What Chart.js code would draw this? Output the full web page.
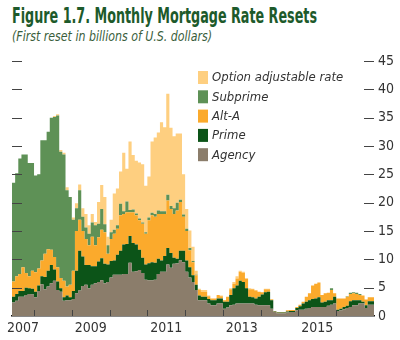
<!DOCTYPE html>
<html>
<head>
<meta charset="utf-8">
<script src="https://cdn.jsdelivr.net/npm/chart.js@4.4.1/dist/chart.umd.min.js"></script>
<style>
  html, body { margin: 0; padding: 0; background: #fff; }
  #wrap { position: relative; width: 400px; height: 340px; overflow: hidden; }
  #chart { position: absolute; left: 0; top: 0; }
  .narrow { font-family: "Liberation Sans Narrow", "DejaVu Sans Condensed", "Arial Narrow", sans-serif; }
  #title { position: absolute; left: 12px; top: 4px; font-size: 21px; font-weight: bold; color: #1d5a2b; white-space: nowrap; line-height: 24px; transform-origin: left top; }
  #subtitle { position: absolute; left: 12px; top: 28px; font-size: 14px; font-style: italic; color: #3a5e3c; white-space: nowrap; line-height: 16px; transform-origin: left top; }
</style>
</head>
<body>
<div id="wrap">
  <div id="title" class="narrow">Figure 1.7. Monthly Mortgage Rate Resets</div>
  <div id="subtitle" class="narrow">(First reset in billions of U.S. dollars)</div>
  <canvas id="chart" width="400" height="340"></canvas>
</div>
<script>
// first month shown is June 2007, one value per month through December 2016
const startYear = 2007;
const startMonth = 5; // zero-based: June
const endYear = 2017;

const yearLabels = [2007, 2009, 2011, 2013, 2015];
const yearMarks = [2008, 2009, 2010, 2011, 2012, 2013, 2014, 2015, 2016];

const agency = [
  1.7, 2.4, 2.7, 3.4, 3.4, 3.7, 3.9, 3.8, 3.3, 4.4, 5.6, 4.7, 5.2, 5.8, 6.2, 4.6, 4.3, 2.7, 2.8,
  2.8, 3.0, 4.0, 4.5, 5.3, 5.5, 4.9, 5.5,
  5.8, 6.0, 6.3, 5.8, 6.0, 6.8, 7.3, 7.3, 7.3, 7.4, 7.4, 9.4, 7.8, 7.9, 8.1, 7.6, 6.4, 6.3, 6.3, 6.4,
  7.4, 7.8, 7.8, 9.1, 8.5, 9.2, 9.3, 9.8,
  9.5, 7.8, 6.8, 6.0, 4.6, 2.8, 2.8, 2.8, 2.2, 1.9, 1.9, 2.2,
  2.2, 1.3, 1.5, 1.9, 2.0, 2.2, 2.2, 2.2, 2.2, 2.2, 2.2, 2.0,
  1.9, 1.9, 1.9, 1.9, 1.3, 0.7, 0.5, 0.5, 0.5, 0.6, 0.7, 0.7,
  1.0, 1.1, 1.1, 1.3, 1.4, 1.6, 1.6, 1.6, 1.6, 1.6, 1.8, 2.0,
  2.2, 0.9, 1.0, 1.2, 1.4, 1.6, 1.9, 1.9, 2.2, 2.2, 1.4, 2.0
];
const prime = [
  0.8, 1.0, 1.2, 1.0, 1.0, 1.3, 1.0, 1.0, 1.0, 1.0, 1.4, 2.2, 2.8, 3.2, 2.0, 1.5, 0.6, 0.6, 0.8,
  0.5, 1.4, 4.0, 7.0, 5.2, 3.5, 4.1, 3.3,
  3.0, 3.6, 3.9, 3.4, 3.1, 2.9, 2.5, 3.5, 4.2, 5.2, 5.3, 4.7, 5.1, 4.7, 3.6, 2.7, 2.7, 3.0, 3.2, 3.0,
  2.7, 2.0, 2.8, 2.9, 2.6, 1.1, 0.8, 1.7,
  2.0, 2.0, 1.8, 1.2, 0.9, 0.8, 0.6, 0.6, 0.8, 0.9, 0.9, 0.9,
  0.9, 1.2, 1.0, 1.8, 2.9, 3.2, 4.0, 3.8, 2.7, 1.2, 1.1, 1.1,
  1.5, 1.9, 2.3, 2.4, 1.5, 0.1, 0.1, 0.1, 0.1, 0.2, 0.2, 0.2,
  0.4, 0.6, 1.1, 1.2, 1.4, 1.4, 1.5, 1.7, 0.8, 0.9, 1.0, 0.8,
  1.2, 0.2, 0.3, 0.4, 0.4, 1.0, 0.9, 0.9, 0.6, 0.3, 0.5, 0.6
];
const altA = [
  2.5, 2.7, 3.1, 3.0, 4.2, 2.6, 2.1, 3.2, 3.4, 3.0, 2.8, 4.1, 3.8, 2.7, 2.2, 2.5, 1.8, 2.9, 1.6,
  2.2, 3.6, 7.0, 5.5, 4.5, 4.6, 3.5, 5.2,
  3.7, 4.3, 5.0, 5.6, 1.9, 3.9, 4.7, 4.6, 6.3, 5.4, 5.6, 4.2, 5.4, 5.2, 5.2, 6.0, 5.4, 7.6, 8.3, 8.1,
  7.9, 8.2, 7.4, 8.4, 7.8, 7.7, 8.5, 8.6,
  6.0, 5.2, 3.0, 2.3, 1.7, 1.0, 0.9, 0.9, 0.5, 0.3, 0.3, 0.6,
  0.4, 0.3, 0.9, 1.0, 0.8, 1.2, 1.6, 1.6, 1.7, 1.3, 1.4, 1.4,
  0.9, 0.4, 0.5, 0.4, 0.1, 0.1, 0.1, 0.1, 0.1, 0.2, 0.15, 0.15,
  0.2, 0.3, 0.3, 0.9, 1.2, 2.4, 2.6, 2.6, 1.3, 1.5, 1.3, 1.8,
  0.6, 2.0, 1.8, 1.5, 1.6, 1.3, 1.2, 1.1, 0.9, 1.1, 1.0, 0.7
];
const subprime = [
  16.0, 17.4, 18.2, 20.4, 19.9, 20.9, 20.0, 19.0, 17.1, 16.6, 21.2, 20.0, 20.7, 23.3, 24.7, 26.8, 22.3, 22.3, 17.0,
  15.5, 9.0, 4.0, 5.2, 2.5, 2.0, 2.0, 2.5,
  3.5, 2.4, 3.7, 1.4, 1.5, 1.2, 0.7, 0.6, 2.0, 0.5, 1.9, 0.4, 0.5, 0.3, 0.3, 0.2, 0.3, 0.5, 0.4, 0.5,
  0.6, 0.5, 0.5, 1.0, 0.5, 1.0, 1.4, 0.4,
  0.4, 0.4, 0.4, 0.2, 0.1, 0, 0, 0, 0, 0, 0, 0,
  0, 0, 0, 0, 0, 0, 0, 0, 0, 0, 0, 0,
  0, 0, 0, 0, 0, 0, 0, 0, 0, 0, 0, 0,
  0, 0, 0, 0, 0, 0, 0, 0, 0, 0, 0, 0.3,
  0, 0, 0, 0, 0.1, 0.2, 0.2, 0.2, 0.2, 0, 0, 0
];
const optionArm = [
  0, 0, 0, 0, 0, 0, 0, 0, 0, 0, 0, 0, 0, 0, 0.2, 0.2, 0.3, 0.3, 0.5,
  0, 0.4, 0.9, 1.0, 1.5, 2.4, 1.5, 1.5,
  0.6, 3.8, 4.2, 4.8, 1.5, 2.2, 6.4, 6.5, 5.7, 10.3, 5.8, 12.1, 9.6, 9.3, 9.9, 10.3, 8.2, 7.2, 12.6, 13.5,
  13.8, 15.7, 14.8, 17.8, 13.8, 12.7, 12.2, 11.7,
  7.1, 3.5, 3.1, 2.5, 0.7, 0.2, 0.3, 0.3, 0.1, 0, 0, 0,
  0.1, 0, 0, 0.2, 0.3, 0.4, 0.2, 0.2, 0, 0.2, 0.1, 0.1,
  0, 0, 0.1, 0.1, 0.1, 0, 0, 0, 0, 0, 0, 0,
  0, 0, 0, 0, 0, 0, 0, 0, 0, 0, 0, 0,
  0, 0, 0, 0, 0, 0, 0, 0, 0, 0, 0, 0
];

const seriesNames = ['Agency', 'Prime', 'Alt-A', 'Subprime', 'Option adjustable rate'];
const seriesColors = ['#8b7d6b', '#0c5418', '#fbaa2c', '#5e9156', '#fecf80'];
const seriesValues = [agency, prime, altA, subprime, optionArm];

const narrowFont = '"Liberation Sans Narrow", "DejaVu Sans Condensed", "Arial Narrow", sans-serif';
const firstX = startYear + startMonth / 12;

// squeeze the heading lines to their printed widths
function fitWidth(el, w) {
  const r = w / el.getBoundingClientRect().width;
  el.style.transform = 'scaleX(' + r + ')';
}
fitWidth(document.getElementById('title'), 305);
fitWidth(document.getElementById('subtitle'), 200);

// months as decimal years; the last value is repeated at the right edge so the final step is closed
function toPoints(values) {
  const pts = values.map((v, i) => ({ x: firstX + i / 12, y: v }));
  pts.push({ x: firstX + values.length / 12, y: values[values.length - 1] });
  return pts;
}

const datasets = seriesValues.map((vals, k) => ({
  label: seriesNames[k],
  data: toPoints(vals),
  backgroundColor: seriesColors[k],
  borderColor: 'rgba(0,0,0,0)',
  borderWidth: 0,
  pointRadius: 0,
  stepped: 'after',
  fill: k === 0 ? 'origin' : '-1'
}));

// short tick marks along both sides and the year boundaries
const edgeTicks = {
  id: 'edgeTicks',
  afterDatasetsDraw(chart, args, opts) {
    const { ctx, chartArea: a, scales: { x, y } } = chart;
    ctx.save();
    ctx.strokeStyle = opts.color;
    ctx.lineWidth = 1;
    ctx.beginPath();
    y.ticks.forEach(t => {
      if (t.value === 0) return;
      const py = Math.round(y.getPixelForValue(t.value)) + 0.5;
      ctx.moveTo(a.left, py); ctx.lineTo(a.left + opts.length, py);
      ctx.moveTo(a.right - opts.length, py); ctx.lineTo(a.right, py);
    });
    yearMarks.forEach(yr => {
      const px = Math.round(x.getPixelForValue(yr)) + 0.5;
      ctx.moveTo(px, a.bottom); ctx.lineTo(px, a.bottom - opts.markLength);
    });
    ctx.stroke();
    ctx.restore();
  }
};

// legend block, top entry first
const boxLegend = {
  id: 'boxLegend',
  afterDraw(chart, args, opts) {
    const { ctx } = chart;
    const sets = chart.data.datasets.slice().reverse();
    ctx.save();
    ctx.font = 'italic 13px ' + narrowFont;
    ctx.textBaseline = 'middle';
    sets.forEach((ds, i) => {
      const top = opts.top + i * opts.step;
      ctx.fillStyle = ds.backgroundColor;
      ctx.fillRect(opts.left, top, opts.boxWidth, opts.boxHeight);
      ctx.fillStyle = '#333';
      ctx.fillText(ds.label, opts.left + opts.boxWidth + 4, top + opts.boxHeight / 2 + 0.5);
    });
    ctx.restore();
  }
};

new Chart(document.getElementById('chart'), {
  type: 'line',
  data: { datasets },
  options: {
    responsive: false,
    animation: false,
    devicePixelRatio: 1,
    layout: { padding: { left: 12, top: 61, right: 0, bottom: 0 } },
    plugins: {
      legend: { display: false },
      tooltip: { enabled: false },
      edgeTicks: { color: '#444', length: 10, markLength: 6 },
      boxLegend: { left: 198, top: 71, step: 19.3, boxWidth: 10, boxHeight: 13 }
    },
    scales: {
      x: {
        type: 'linear',
        min: firstX,
        max: endYear,
        z: 1,
        grid: { display: false, drawTicks: false },
        border: { display: true, color: '#111', width: 1.5 },
        afterBuildTicks(axis) {
          axis.ticks = yearLabels.map(yr => ({
            value: yr === startYear ? (firstX + yr + 1) / 2 : yr + 0.5
          }));
        },
        afterFit(scale) { scale.height = 24; },
        ticks: {
          padding: 4,
          color: '#333',
          font: { family: narrowFont, size: 14 },
          maxRotation: 0,
          callback: v => String(Math.floor(v))
        }
      },
      y: {
        position: 'right',
        stacked: true,
        min: 0,
        max: 45,
        grid: { display: false, drawTicks: false },
        border: { display: false },
        afterFit(scale) { scale.width = 26; },
        ticks: {
          stepSize: 5,
          padding: 4,
          color: '#333',
          font: { family: narrowFont, size: 14 }
        }
      }
    }
  },
  plugins: [edgeTicks, boxLegend]
});
</script>
</body>
</html>
